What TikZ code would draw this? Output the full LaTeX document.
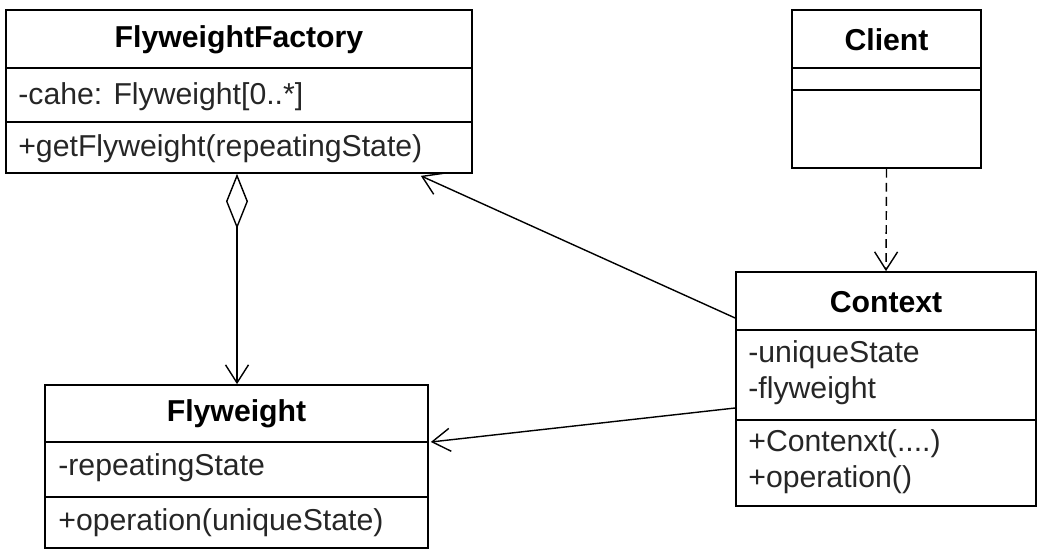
\documentclass[tikz,border=0pt]{standalone}
\usepackage{fontspec}
\setmainfont{Liberation Sans}
\usetikzlibrary{arrows.meta, positioning}

\begin{document}
\begin{tikzpicture}[
  x=0.02cm, y=-0.02cm,
  font=\fontsize{17.2}{20}\selectfont,
  box/.style={rectangle, draw, line width=1pt, inner sep=0pt},
  title/.style={font=\fontsize{17.2}{20}\selectfont\bfseries},
  member/.style={anchor=west, inner sep=0pt, text=black!85},
  divider/.style={line width=1pt},
  assoc/.style={-{Straight Barb[length=0.36cm, width=0.46cm]}, line width=0.8pt},
  agg/.style={{Diamond[open, length=1.1cm, width=0.44cm]}-{Straight Barb[length=0.36cm, width=0.46cm]}, line width=0.8pt},
  dep/.style={-{Straight Barb[length=0.36cm, width=0.46cm]}, line width=0.8pt, dash pattern=on 5pt off 3pt}
]
\useasboundingbox (0,0) rectangle (1041,557);

% FlyweightFactory
\node[box, minimum width=9.32cm, minimum height=3.26cm] (factory) at (239,91.5) {};
\node[title] (factory_name) at (239,40) {FlyweightFactory};
\draw[divider] (factory.west |- 0,68) -- (factory.east |- 0,68);
\draw[divider] (factory.west |- 0,122) -- (factory.east |- 0,122);
\node[member] (factory_cache) at (18,97) {-cahe: Flyweight[0..*]};
\node[member] (factory_get) at (18,149) {+getFlyweight(repeatingState)};

% Client
\node[box, minimum width=3.78cm, minimum height=3.16cm] (client) at (886.5,89) {};
\node[title] (client_name) at (886.5,40) {Client};
\draw[divider] (client.west |- 0,68) -- (client.east |- 0,68);
\draw[divider] (client.west |- 0,90) -- (client.east |- 0,90);

% Context
\node[box, minimum width=6cm, minimum height=4.68cm] (context) at (886,389) {};
\node[title] (context_name) at (886,302) {Context};
\draw[divider] (context.west |- 0,330) -- (context.east |- 0,330);
\draw[divider] (context.west |- 0,420) -- (context.east |- 0,420);
\node[member] (context_state) at (748,355) {-uniqueState};
\node[member] (context_fw) at (748,391) {-flyweight};
\node[member] (context_ctor) at (748,444) {+Contenxt(....)};
\node[member] (context_op) at (748,480) {+operation()};

% Flyweight
\node[box, minimum width=7.66cm, minimum height=3.26cm] (flyweight) at (236.5,466.5) {};
\node[title] (flyweight_name) at (236.5,414) {Flyweight};
\draw[divider] (flyweight.west |- 0,442) -- (flyweight.east |- 0,442);
\draw[divider] (flyweight.west |- 0,497) -- (flyweight.east |- 0,497);
\node[member] (flyweight_state) at (58,468) {-repeatingState};
\node[member] (flyweight_op) at (58,523) {+operation(uniqueState)};

% relations
\draw[agg] ([xshift=-0.04cm]factory.south) -- ([xshift=-0.04cm]factory.south |- flyweight.north);
\draw[assoc] ([yshift=1.42cm]context.west) -- ([xshift=-1.04cm, yshift=-0.04cm]factory.south east);
\draw[assoc] ([yshift=-0.38cm]context.west) -- ([xshift=0.04cm, yshift=0.49cm]flyweight.east);
\draw[dep] (client.south) -- (context.north);

\end{tikzpicture}
\end{document}
